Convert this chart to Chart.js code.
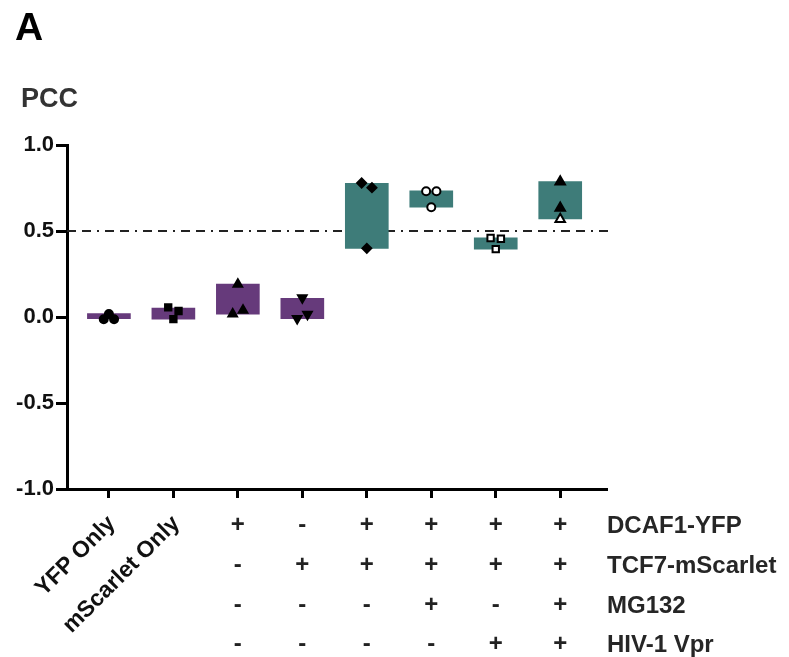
<!DOCTYPE html>
<html>
<head>
<meta charset="utf-8">
<script src="https://cdn.jsdelivr.net/npm/chart.js@4"></script>
<style>
  html, body { margin: 0; padding: 0; background: #fff; }
  #wrap { width: 789px; height: 657px; }
</style>
</head>
<body>
<div id="wrap"><canvas id="pcc_chart" width="789" height="657"></canvas></div>
<script>
// groups along the x axis
const groups = ['YFP Only', 'mScarlet Only', 'g3', 'g4', 'g5', 'g6', 'g7', 'g8'];
// floating bar ranges (low / high PCC)
const barLow  = [-0.01, -0.012, 0.017, -0.01, 0.399, 0.638, 0.395, 0.570];
const barHigh = [ 0.02,  0.052, 0.192, 0.109, 0.777, 0.733, 0.461, 0.787];
// individual replicates per group, with small horizontal jitter
const repValues = [
  [0.017, -0.013, -0.013],
  [0.056, 0.035, -0.012],
  [0.190, 0.017, 0.039],
  [0.112, -0.008, 0.016],
  [0.779, 0.752, 0.399],
  [0.731, 0.731, 0.638],
  [0.459, 0.455, 0.395],
  [0.787, 0.634, 0.568]
];
const repJitter = [
  [0, -0.08, 0.08],
  [-0.08, 0.08, 0],
  [0, -0.08, 0.08],
  [0, -0.08, 0.08],
  [-0.08, 0.08, 0],
  [-0.08, 0.08, 0],
  [-0.08, 0.08, 0],
  [0, 0, 0]
];
const yTicks = [-1.0, -0.5, 0.0, 0.5, 1.0];
const refLine = 0.5;
// treatment table under the axis
const rowNames = ['DCAF1-YFP', 'TCF7-mScarlet', 'MG132', 'HIV-1 Vpr'];
const rowSigns = [
  ['', '', '+', '-', '+', '+', '+', '+'],
  ['', '', '-', '+', '+', '+', '+', '+'],
  ['', '', '-', '-', '-', '+', '-', '+'],
  ['', '', '-', '-', '-', '-', '+', '+']
];
const rotatedNames = ['YFP Only', 'mScarlet Only'];

const PURPLE = '#663a7b';
const TEAL = '#3e7c79';
const FONT = "'Liberation Sans', Arial, sans-serif";

const barColors = groups.map((g, i) => i < 4 ? PURPLE : TEAL);

const markerStyle = [
  { style: 'circle', r: 4, fill: '#000', rot: 0 },
  { style: 'rect', r: 4.5, fill: '#000', rot: 0 },
  { style: 'triangle', r: 5, fill: '#000', rot: 0 },
  { style: 'triangle', r: 5, fill: '#000', rot: 180 },
  { style: 'rectRot', r: 4.5, fill: '#000', rot: 0 },
  { style: 'circle', r: 4, fill: '#fff', rot: 0 },
  { style: 'rect', r: 4.5, fill: '#fff', rot: 0 },
  { style: 'triangle', r: 5.5, fill: '#000', rot: 0 }
];

const scatterSets = repValues.map((vals, gi) => {
  const m = markerStyle[gi];
  const fills = vals.map(() => m.fill);
  if (gi === 7) fills[2] = '#fff';
  return {
    type: 'scatter',
    data: vals.map((v, k) => ({ x: gi + repJitter[gi][k], y: v })),
    pointStyle: m.style,
    pointRotation: m.rot,
    pointRadius: m.r,
    pointBackgroundColor: fills,
    pointBorderColor: '#000',
    pointBorderWidth: 2,
    order: 0
  };
});

const tablePlugin = {
  id: 'tablePlugin',
  beforeDatasetsDraw(chart) {
    // dash-dot reference line
    const ctx = chart.ctx, a = chart.chartArea;
    const y = chart.scales.y.getPixelForValue(refLine);
    ctx.save();
    ctx.strokeStyle = '#222';
    ctx.lineWidth = 2;
    ctx.setLineDash([9, 6, 9, 6, 2, 6]);
    ctx.beginPath();
    ctx.moveTo(a.left, y);
    ctx.lineTo(a.right + 4, y);
    ctx.stroke();
    ctx.restore();
  },
  afterDraw(chart) {
    const ctx = chart.ctx;
    const xs = chart.scales.x;
    ctx.save();
    ctx.fillStyle = '#000';
    ctx.font = 'bold 39px ' + FONT;
    ctx.textBaseline = 'alphabetic';
    ctx.textAlign = 'left';
    ctx.fillText('A', 15, 40);
    ctx.fillStyle = '#333';
    ctx.font = 'bold 27px ' + FONT;
    ctx.fillText('PCC', 21, 107);

    // rotated names for the first two groups
    ctx.fillStyle = '#111';
    ctx.font = 'bold 23px ' + FONT;
    rotatedNames.forEach((name, i) => {
      const px = xs.getPixelForValue(i);
      ctx.save();
      ctx.translate(px + 3, 520);
      ctx.rotate(-Math.PI / 4);
      ctx.textAlign = 'right';
      ctx.textBaseline = 'middle';
      ctx.fillText(name, 0, 0);
      ctx.restore();
    });

    // +/- table
    const rowY = [525, 565, 605, 644];
    ctx.fillStyle = '#222';
    ctx.textAlign = 'center';
    ctx.textBaseline = 'middle';
    ctx.font = 'bold 24px ' + FONT;
    rowSigns.forEach((row, r) => {
      row.forEach((s, i) => {
        if (s) ctx.fillText(s, xs.getPixelForValue(i), rowY[r]);
      });
    });
    ctx.textAlign = 'left';
    ctx.font = 'bold 24px ' + FONT;
    ctx.fillStyle = '#262626';
    rowNames.forEach((n, r) => ctx.fillText(n, 607, rowY[r] + 1));
    ctx.restore();
  }
};

const ctxp = document.getElementById('pcc_chart').getContext('2d');
const chartp = new Chart(ctxp, {
  type: 'bar',
  data: {
    datasets: [
      {
        type: 'bar',
        data: groups.map((g, i) => ({ x: i, y: [barLow[i], barHigh[i]] })),
        backgroundColor: barColors,
        borderWidth: 0,
        barThickness: 43,
        order: 1
      },
      ...scatterSets
    ]
  },
  options: {
    responsive: false,
    animation: false,
    layout: { padding: { left: 0, right: 183, top: 145, bottom: 156 } },
    plugins: {
      legend: { display: false },
      tooltip: { enabled: false }
    },
    scales: {
      x: {
        type: 'linear',
        min: -0.65,
        max: 7.71,
        offset: false,
        afterBuildTicks: s => { s.ticks = groups.map((g, i) => ({ value: i })); },
        afterFit: s => { s.height = 12; },
        ticks: { display: false },
        grid: { offset: false, drawOnChartArea: false, drawTicks: true, tickLength: 9, lineWidth: 3, color: '#000' },
        border: { display: true, width: 3, color: '#000' }
      },
      y: {
        min: -1,
        max: 1,
        afterBuildTicks: s => { s.ticks = yTicks.map(v => ({ value: v })); },
        afterFit: s => { s.width = 67; },
        ticks: {
          callback: v => v.toFixed(1),
          font: { family: FONT, size: 22, weight: 'bold' },
          color: '#111',
          padding: 2
        },
        grid: { drawOnChartArea: false, drawTicks: true, tickLength: 11, lineWidth: 3, color: '#000' },
        border: { display: true, width: 3, color: '#000' }
      }
    }
  },
  plugins: [tablePlugin]
});
</script>
</body>
</html>
